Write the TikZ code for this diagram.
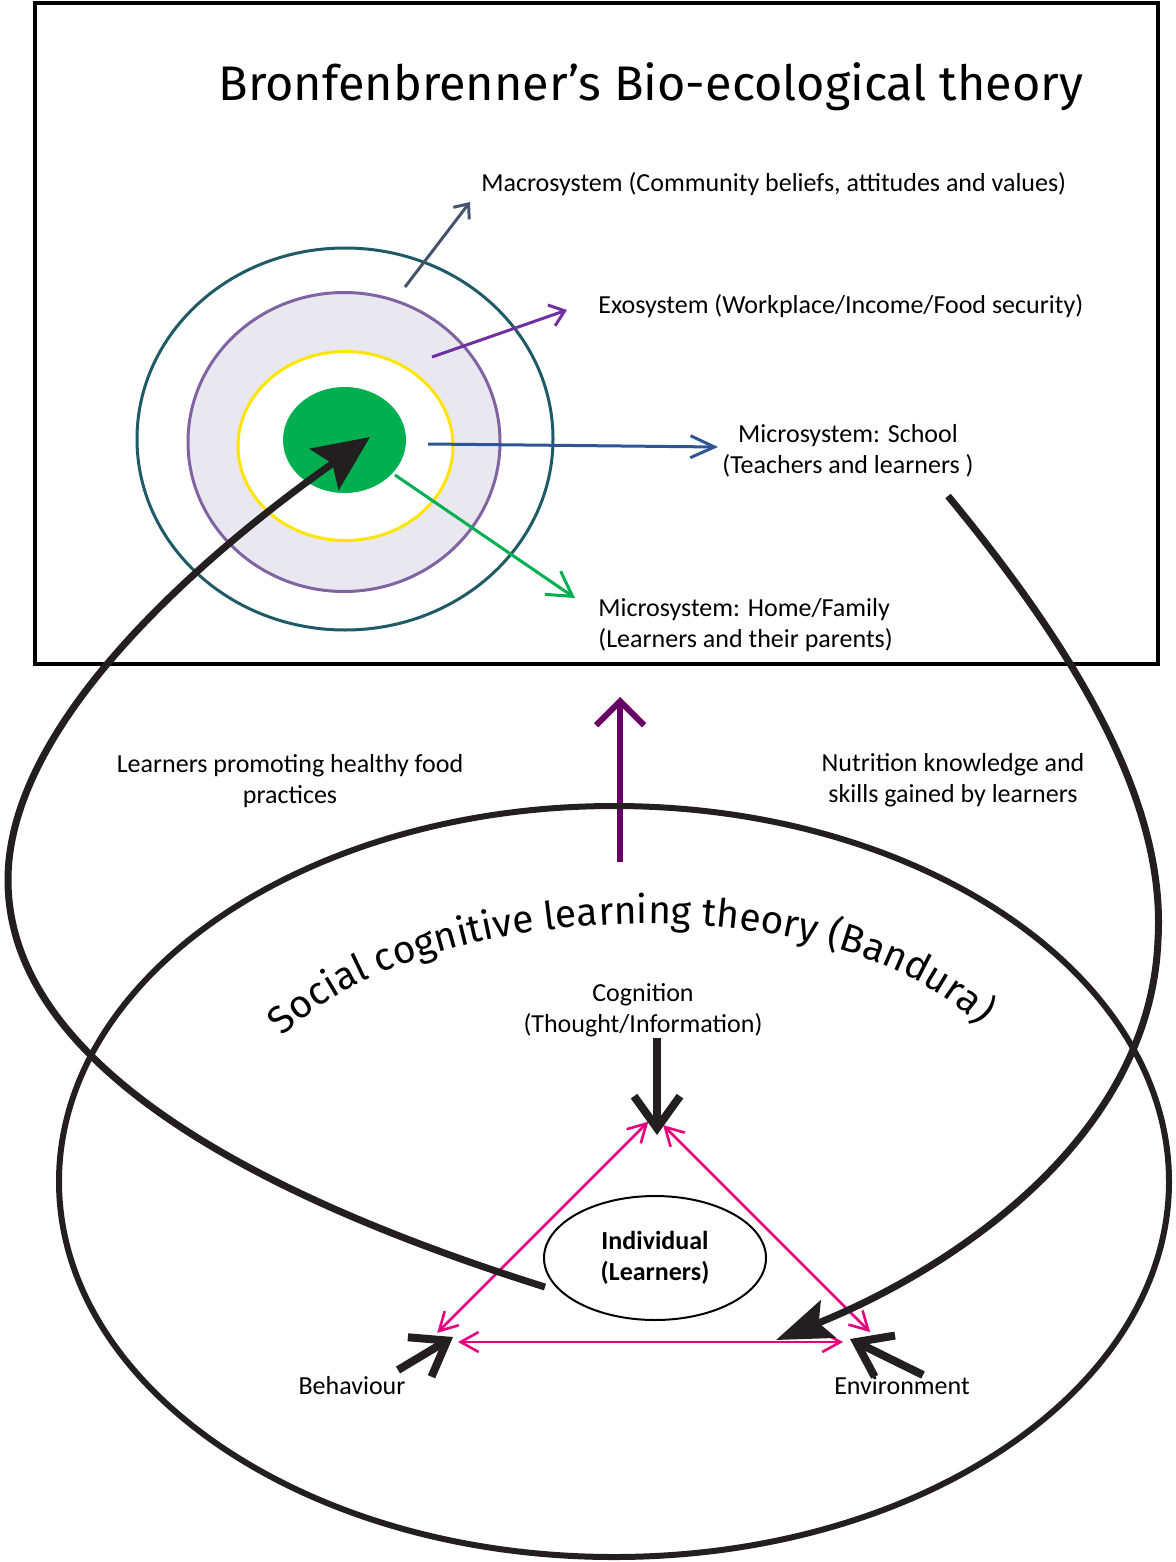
\documentclass[tikz,border=0pt]{standalone}
\usepackage{fontspec}
\setmainfont{Carlito}
\newfontfamily\headfont{Fira Sans}
\usetikzlibrary{arrows.meta,decorations.text,positioning,shapes.geometric}

\definecolor{inkblack}{HTML}{231F20}
\definecolor{ringteal}{HTML}{1F5B66}
\definecolor{ringpurple}{HTML}{8064A2}
\definecolor{ringfill}{HTML}{E9E7F0}
\definecolor{ringyellow}{HTML}{FFE500}
\definecolor{coregreen}{HTML}{00B050}
\definecolor{macroslate}{HTML}{44546A}
\definecolor{exopurple}{HTML}{7030A0}
\definecolor{schoolblue}{HTML}{2F5597}
\definecolor{triadpink}{HTML}{E6007E}
\definecolor{linkplum}{HTML}{660066}

\newcommand\sctfont{\headfont\fontsize{19.5}{22}\selectfont}

\tikzset{
  lbl/.style={font=\fontsize{13}{15.5}\selectfont, inner sep=0pt, align=center},
  ring/.style={ellipse, inner sep=0pt, line width=1.5pt},
  ringarrow/.style={line width=1.5pt},
  fatbarb/.style={draw=inkblack, line width=4pt, -{Straight Barb[length=16pt,width=23pt]}},
  bigcurve/.style={draw=inkblack, line width=3.5pt},
  triad/.style={draw=triadpink, line width=1.3pt,
    {Straight Barb[length=9pt,width=10pt]}-{Straight Barb[length=9pt,width=10pt]}},
}

\begin{document}
\begin{tikzpicture}[x=0.5pt,y=-0.5pt]
  \useasboundingbox (0,0) rectangle (1176,1562);

  % Bronfenbrenner box
  \node[draw, line width=2pt, minimum width=561.5pt, minimum height=330.5pt, inner sep=0pt] (bronbox) at (596.5,333.5) {};
  \node[font=\headfont\fontsize{24.3}{28}\selectfont, inner sep=0pt] (title) at (651,87) {Bronfenbrenner’s Bio-ecological theory};

  \node[ring, draw=ringteal, minimum width=208pt, minimum height=191pt] (macro) at (345,439) {};
  \node[ring, draw=ringpurple, fill=ringfill, minimum width=156pt, minimum height=149.5pt] (exo) at (344,442) {};
  \node[ring, draw=ringyellow, fill=white, minimum width=107.5pt, minimum height=94.5pt] (meso) at (345.5,446) {};
  \node[ring, fill=coregreen, minimum width=61.5pt, minimum height=53pt] (core) at (344.5,440) {};

  \node[lbl, anchor=west] (macrolbl) at (481,184) {Macrosystem (Community beliefs, attitudes and values)};
  \node[lbl, anchor=west] (exolbl) at (598,306) {Exosystem (Workplace/Income/Food security)};
  \node[lbl] (schoollbl) at (848,451) {Microsystem: School\\(Teachers and learners )};
  \node[lbl, anchor=west, align=left] (homelbl) at (598,625) {Microsystem: Home/Family\\(Learners and their parents)};

  \coordinate (macrofrom) at (405,287);
  \coordinate (macroto) at (470,202);
  \coordinate (exofrom) at (432,357);
  \coordinate (exoto) at (567,310);
  \coordinate (schoolfrom) at (428,444);
  \coordinate (schoolto) at (718,447);
  \coordinate (homefrom) at (395,475);
  \coordinate (hometo) at (575,598);
  \draw[ringarrow, draw=macroslate, -{Straight Barb[length=6pt,width=10pt]}] (macrofrom) -- (macroto);
  \draw[ringarrow, draw=exopurple, -{Straight Barb[length=7pt,width=11pt]}] (exofrom) -- (exoto);
  \draw[ringarrow, draw=schoolblue, -{Straight Barb[length=12pt,width=11pt]}] (schoolfrom) -- (schoolto);
  \draw[ringarrow, draw=coregreen, -{Straight Barb[length=12pt,width=14pt]}] (homefrom) -- (hometo);

  % link between the two theories
  \coordinate (linkfrom) at (620,862);
  \coordinate (linkto) at (620,697);
  \draw[draw=linkplum, line width=3pt, -{Straight Barb[length=12pt,width=24pt]}] (linkfrom) -- (linkto);
  \node[lbl] (promotelbl) at (290,781) {Learners promoting healthy food\\practices};
  \node[lbl] (gainlbl) at (953,780) {Nutrition knowledge and\\skills gained by learners};

  % Bandura
  \node[ellipse, draw=inkblack, line width=3pt, minimum width=555pt, minimum height=375.5pt, inner sep=0pt] (sct) at (614,1181.5) {};
  \path[decorate, decoration={text along path, text align=center,
      text={|\sctfont|Social cognitive learning theory (Bandura)}}]
    (262,1062) .. controls (380,890) and (870,870) .. (1000,1050);

  \node[lbl] (coglbl) at (643,1010) {Cognition\\(Thought/Information)};
  \node[ellipse, draw, line width=1pt, minimum width=111pt, minimum height=62pt, inner sep=0pt,
    font=\bfseries\fontsize{13}{15.5}\selectfont, align=center] (indiv) at (655,1258) {Individual\\(Learners)};
  \node[lbl] (behlbl) at (352,1386) {Behaviour};
  \node[lbl] (envlbl) at (902,1386) {Environment};

  \coordinate (vtop) at (654,1116);
  \coordinate (vleft) at (428,1342);
  \coordinate (vright) at (880,1342);
  \draw[triad, shorten <=4pt, shorten >=6.5pt] (vtop) -- (vleft);
  \draw[triad, shorten <=6.4pt, shorten >=7pt] (vtop) -- (vright);
  \draw[triad, shorten <=15pt, shorten >=18.5pt] (vleft) -- (vright);

  \coordinate (cogtail) at (657,1038);
  \coordinate (cogtip) at (657,1135);
  \coordinate (behtail) at (398,1370);
  \coordinate (behtip) at (453,1337);
  \coordinate (envtail) at (923,1375);
  \coordinate (envtip) at (850,1339);
  \draw[fatbarb] (cogtail) -- (cogtip);
  \draw[fatbarb] (behtail) -- (behtip);
  \draw[fatbarb] (envtail) -- (envtip);

  % the two loops
  \coordinate (pushfrom) at (545,1287);
  \coordinate (pushmid) at (8,880);
  \coordinate (pushto) at (370,437);
  \coordinate (gainfrom) at (948,496);
  \coordinate (gainmid) at (1158,940);
  \coordinate (gainto) at (776,1340);
  \draw[bigcurve, -{Stealth[length=28pt,width=25pt,inset=5pt]}]
    (pushfrom) .. controls (300,1210) and (8,1080) .. (pushmid)
    .. controls (8,720) and (210,550) .. (pushto);
  \draw[bigcurve, -{Stealth[length=28pt,width=20pt,inset=5pt]}]
    (gainfrom) .. controls (1100,680) and (1165,820) .. (gainmid)
    .. controls (1150,1140) and (950,1270) .. (gainto);
\end{tikzpicture}
\end{document}
